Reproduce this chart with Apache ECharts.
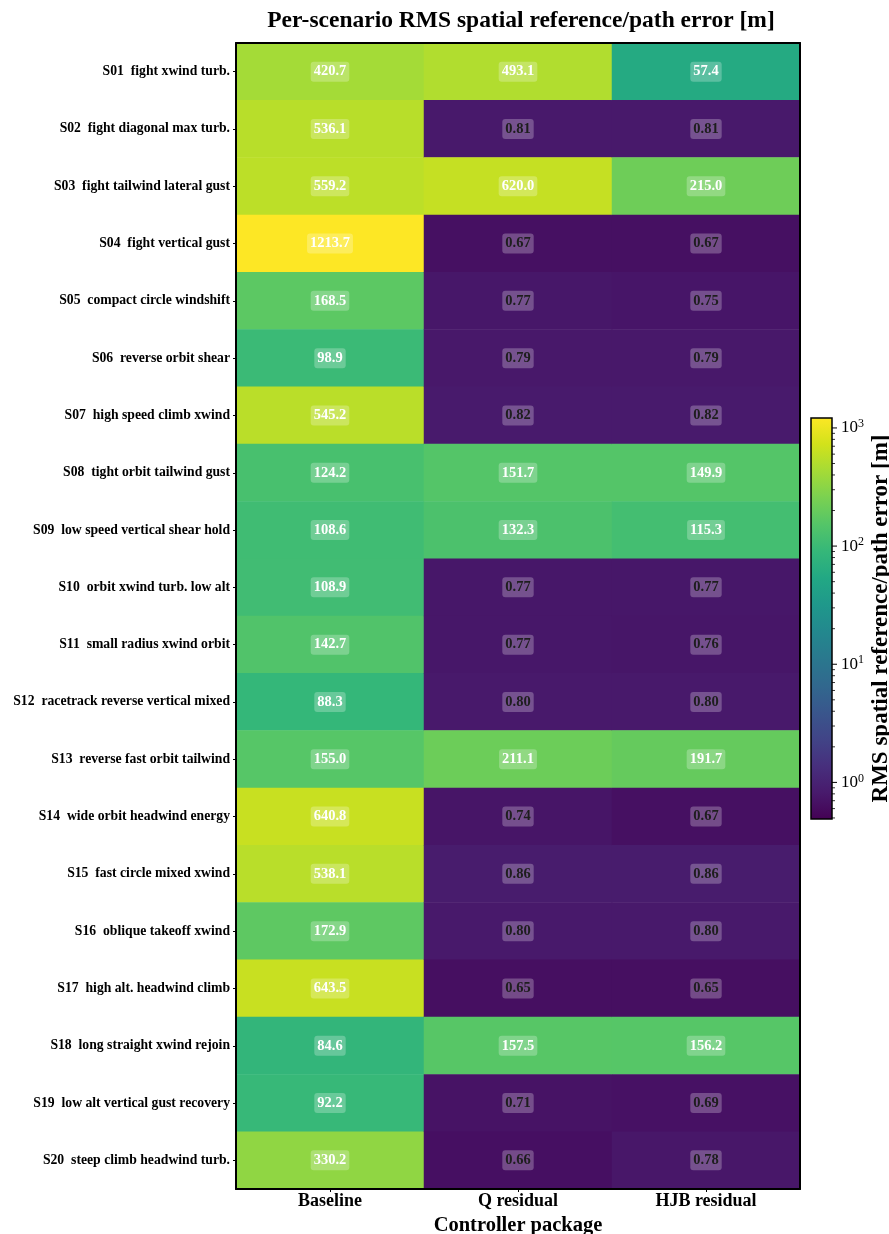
<!DOCTYPE html>
<html>
<head>
<meta charset="utf-8">
<script src="https://cdn.jsdelivr.net/npm/echarts@6/dist/echarts.min.js"></script>
<style>
  html, body { margin: 0; padding: 0; background: #fff; }
  #chart { width: 889px; height: 1234px; }
</style>
</head>
<body>
<div id="chart"></div>
<script>
// Scenario rows (top to bottom) and controller packages (left to right)
const scenarios = [
  'S01  fight xwind turb.',
  'S02  fight diagonal max turb.',
  'S03  fight tailwind lateral gust',
  'S04  fight vertical gust',
  'S05  compact circle windshift',
  'S06  reverse orbit shear',
  'S07  high speed climb xwind',
  'S08  tight orbit tailwind gust',
  'S09  low speed vertical shear hold',
  'S10  orbit xwind turb. low alt',
  'S11  small radius xwind orbit',
  'S12  racetrack reverse vertical mixed',
  'S13  reverse fast orbit tailwind',
  'S14  wide orbit headwind energy',
  'S15  fast circle mixed xwind',
  'S16  oblique takeoff xwind',
  'S17  high alt. headwind climb',
  'S18  long straight xwind rejoin',
  'S19  low alt vertical gust recovery',
  'S20  steep climb headwind turb.'
];
const packages = ['Baseline', 'Q residual', 'HJB residual'];

// RMS spatial reference/path error [m]
const baseline = [420.7, 536.1, 559.2, 1213.7, 168.5, 98.9, 545.2, 124.2, 108.6, 108.9,
                  142.7, 88.3, 155.0, 640.8, 538.1, 172.9, 643.5, 84.6, 92.2, 330.2];
const qResidual = [493.1, 0.81, 620.0, 0.67, 0.77, 0.79, 0.82, 151.7, 132.3, 0.77,
                   0.77, 0.80, 211.1, 0.74, 0.86, 0.80, 0.65, 157.5, 0.71, 0.66];
const hjbResidual = [57.4, 0.81, 215.0, 0.67, 0.75, 0.79, 0.82, 149.9, 115.3, 0.77,
                     0.76, 0.80, 191.7, 0.67, 0.86, 0.80, 0.65, 156.2, 0.69, 0.78];

// Log colour scale limits and colorbar ticks
const colorRange = [0.49, 1213.7];
const majorTicks = [1, 10, 100, 1000];
const minorTicks = [0.5, 0.6, 0.7, 0.8, 0.9,
                    2, 3, 4, 5, 6, 7, 8, 9,
                    20, 30, 40, 50, 60, 70, 80, 90,
                    200, 300, 400, 500, 600, 700, 800, 900];

const viridis = ['#440154', '#481a6c', '#472f7d', '#414487', '#39568c', '#31688e',
                 '#2a788e', '#23888e', '#1f988b', '#22a884', '#35b779', '#54c568',
                 '#7ad151', '#a5db36', '#d2e21b', '#fde725'];

const FONT = '"Liberation Serif", "Times New Roman", serif';
const lmin = Math.log10(colorRange[0]);
const lmax = Math.log10(colorRange[1]);

const columns = [baseline, qResidual, hjbResidual];
const heatData = [];
columns.forEach((col, ci) => {
  col.forEach((v, ri) => {
    const frac = (Math.log10(v) - lmin) / (lmax - lmin);
    heatData.push({
      value: [ci, ri, Math.log10(v), v],
      label: { color: frac < 0.3 ? '#1e1e1e' : '#ffffff' }
    });
  });
});

const fmt = v => (v >= 10 ? v.toFixed(1) : v.toFixed(2));

const gradientStops = viridis.map((c, i) => ({ offset: 1 - i / (viridis.length - 1), color: c }));

const chart = echarts.init(document.getElementById('chart'), null, { renderer: 'canvas' });

const frameLine = { show: true, lineStyle: { color: '#000', width: 2 } };

chart.setOption({
  animation: false,
  backgroundColor: '#ffffff',
  textStyle: { fontFamily: FONT },
  title: {
    text: 'Per-scenario RMS spatial reference/path error [m]',
    left: 516,
    top: 4,
    textAlign: 'center',
    textStyle: { fontFamily: FONT, fontSize: 23.5, fontWeight: 'bold', color: '#000' }
  },
  grid: [
    { left: 236, right: 89, top: 43, bottom: 45, containLabel: false, outerBoundsMode: 'none' },
    { left: 811, width: 21, top: 418, height: 401, containLabel: false, outerBoundsMode: 'none' }
  ],
  xAxis: [
    {
      type: 'category', gridIndex: 0, data: packages, position: 'bottom', z: 10,
      axisLine: frameLine,
      axisTick: { show: true, length: 3, alignWithLabel: true, lineStyle: { color: '#000' } },
      axisLabel: { fontFamily: FONT, fontSize: 18, fontWeight: 'bold', color: '#000', margin: 3 },
      splitLine: { show: false },
      name: 'Controller package', nameLocation: 'middle', nameGap: 23,
      nameTextStyle: { fontFamily: FONT, fontSize: 20.5, fontWeight: 'bold', color: '#000' }
    },
    {
      type: 'category', gridIndex: 0, data: packages, position: 'top', z: 10,
      axisLine: frameLine, axisTick: { show: false }, axisLabel: { show: false }
    },
    {
      type: 'value', gridIndex: 1, min: 0, max: 1, show: false
    }
  ],
  yAxis: [
    {
      type: 'category', gridIndex: 0, data: scenarios, inverse: true, position: 'left', z: 10,
      axisLine: frameLine,
      axisTick: { show: true, length: 3, alignWithLabel: true, lineStyle: { color: '#000' } },
      axisLabel: { fontFamily: FONT, fontSize: 13.7, fontWeight: 'bold', color: '#000', margin: 6 },
      splitLine: { show: false }
    },
    {
      type: 'category', gridIndex: 0, data: scenarios, inverse: true, position: 'right', z: 10,
      axisLine: frameLine, axisTick: { show: false }, axisLabel: { show: false }
    },
    {
      type: 'log', logBase: 10, gridIndex: 1, position: 'right',
      min: colorRange[0], max: colorRange[1],
      axisLine: { show: false },
      axisTick: { show: false },
      splitLine: { show: false },
      axisLabel: {
        showMinLabel: false, showMaxLabel: false, margin: 9,
        fontFamily: FONT, fontSize: 17, color: '#000',
        formatter: v => '10{e|' + Math.round(Math.log10(v)) + '}',
        rich: { e: { fontFamily: FONT, fontSize: 12, color: '#000', padding: [0, 0, 8, 0] } }
      },
      name: 'RMS spatial reference/path error [m]',
      nameLocation: 'middle', nameRotate: 90, nameGap: 38,
      nameTextStyle: { fontFamily: FONT, fontSize: 23, fontWeight: 'bold', color: '#000' }
    }
  ],
  visualMap: {
    show: false,
    type: 'continuous',
    seriesIndex: 0,
    dimension: 2,
    min: lmin,
    max: lmax,
    inRange: { color: viridis }
  },
  series: [
    {
      type: 'heatmap',
      xAxisIndex: 0, yAxisIndex: 0,
      data: heatData,
      itemStyle: { borderWidth: 0 },
      emphasis: { disabled: true },
      label: {
        show: true,
        fontFamily: FONT, fontSize: 14.5, fontWeight: 'bold',
        backgroundColor: 'rgba(255,255,255,0.25)',
        borderRadius: 3,
        padding: [3, 3, 2, 3],
        formatter: p => fmt(p.data.value[3])
      }
    },
    {
      // colorbar body
      type: 'custom',
      xAxisIndex: 2, yAxisIndex: 2,
      data: [[0, colorRange[0], colorRange[1]]],
      encode: { x: 0, y: 1 },
      silent: true,
      renderItem: (params, api) => {
        const tl = api.coord([0, api.value(2)]);
        const br = api.coord([1, api.value(1)]);
        return {
          type: 'rect',
          shape: { x: tl[0], y: tl[1], width: br[0] - tl[0], height: br[1] - tl[1] },
          style: {
            fill: new echarts.graphic.LinearGradient(0, 0, 0, 1, gradientStops),
            stroke: '#000', lineWidth: 1.5
          }
        };
      }
    },
    {
      // colorbar major ticks
      type: 'custom',
      xAxisIndex: 2, yAxisIndex: 2,
      data: majorTicks.map(v => [1, v]),
      encode: { x: 0, y: 1 },
      silent: true,
      renderItem: (params, api) => {
        const p = api.coord([1, api.value(1)]);
        return { type: 'line', shape: { x1: p[0], y1: p[1], x2: p[0] + 5, y2: p[1] },
                 style: { stroke: '#000', lineWidth: 1 } };
      }
    },
    {
      // colorbar minor ticks
      type: 'custom',
      xAxisIndex: 2, yAxisIndex: 2,
      data: minorTicks.filter(v => v > colorRange[0] && v < colorRange[1]).map(v => [1, v]),
      encode: { x: 0, y: 1 },
      silent: true,
      renderItem: (params, api) => {
        const p = api.coord([1, api.value(1)]);
        return { type: 'line', shape: { x1: p[0], y1: p[1], x2: p[0] + 3, y2: p[1] },
                 style: { stroke: '#000', lineWidth: 0.8 } };
      }
    }
  ]
});
</script>
</body>
</html>
